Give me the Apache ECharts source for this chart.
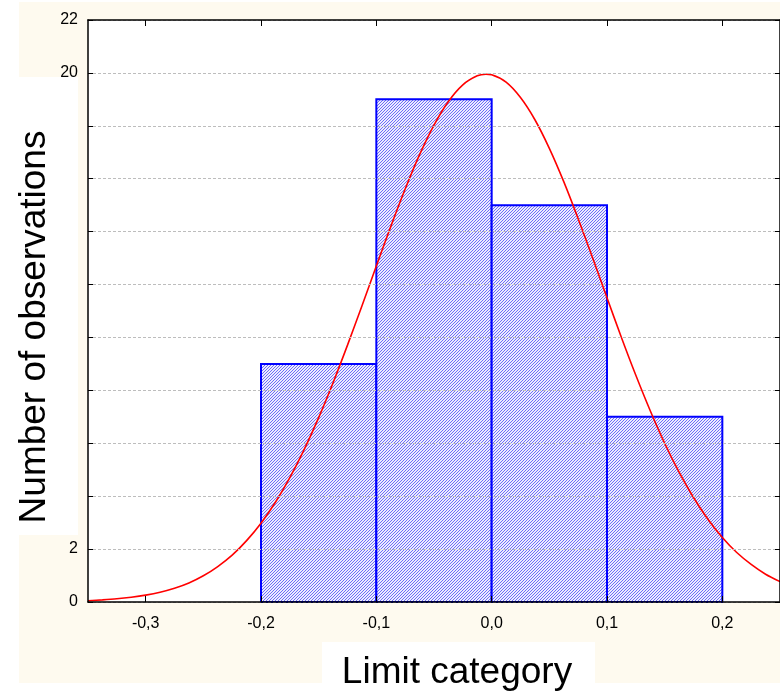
<!DOCTYPE html>
<html>
<head>
<meta charset="utf-8">
<script src="https://cdn.jsdelivr.net/npm/echarts@6/dist/echarts.min.js"></script>
<style>
  html, body { margin: 0; padding: 0; background: #ffffff; }
  #chart { width: 780px; height: 696px; }
</style>
</head>
<body>
<div id="chart"></div>
<script>
// histogram bins
const binStart = [-0.2, -0.1, 0.0, 0.1];
const binEnd = [-0.1, 0.0, 0.1, 0.2];
const counts = [9, 19, 15, 7];

// fitted curve
const curveX = [-0.35, -0.3375, -0.325, -0.3125, -0.3, -0.2875, -0.275, -0.2625, -0.25, -0.2375,
  -0.225, -0.2125, -0.2, -0.1875, -0.175, -0.1625, -0.15, -0.1375, -0.125, -0.1125,
  -0.1, -0.0875, -0.075, -0.0625, -0.05, -0.0375, -0.025, -0.0125, -0.005, 0,
  0.0125, 0.025, 0.0375, 0.05, 0.0625, 0.075, 0.0875, 0.1, 0.1125, 0.125,
  0.1375, 0.15, 0.1625, 0.175, 0.1875, 0.2, 0.2125, 0.225, 0.2375, 0.25];
const curveY = [0.05, 0.08, 0.12, 0.18, 0.26, 0.37, 0.52, 0.72, 0.99, 1.34,
  1.77, 2.32, 2.98, 3.77, 4.70, 5.77, 6.97, 8.29, 9.71, 11.19,
  12.70, 14.19, 15.61, 16.91, 18.03, 18.92, 19.55, 19.89, 19.95, 19.93,
  19.65, 19.07, 18.23, 17.15, 15.89, 14.49, 13.01, 11.50, 10.00, 8.57,
  7.23, 6.00, 4.91, 3.95, 3.13, 2.44, 1.87, 1.42, 1.05, 0.77];

// tick labels
const xTickValues = [-0.3, -0.2, -0.1, 0.0, 0.1, 0.2];
const yLabelValues = [0, 2, 20, 22];

const chart = echarts.init(document.getElementById('chart'));

// blue hatch fill like the original
const hatch = document.createElement('canvas');
hatch.width = 3;
hatch.height = 3;
const hc = hatch.getContext('2d');
hc.fillStyle = '#ececff';
hc.fillRect(0, 0, 3, 3);
hc.fillStyle = '#6e6ef6';
hc.fillRect(2, 0, 1, 1);
hc.fillRect(1, 1, 1, 1);
hc.fillRect(0, 2, 1, 1);

const fmt = v => (Math.abs(v) < 1e-9 ? 0 : v).toFixed(1).replace('.', ',');
const font = '"Liberation Sans", Arial, sans-serif';

const option = {
  backgroundColor: '#ffffff',
  animation: false,
  graphic: [
    { type: 'rect', z: -10, shape: { x: 19, y: 2, width: 761, height: 681 }, style: { fill: '#fefaef' } },
    { type: 'rect', z: 10, shape: { x: 19, y: 77, width: 59, height: 458 }, style: { fill: '#ffffff' } },
    { type: 'rect', z: 10, shape: { x: 322, y: 642, width: 273, height: 54 }, style: { fill: '#ffffff' } },
    {
      type: 'text', z: 11, x: 35, y: 327, rotation: Math.PI / 2,
      style: { text: 'Number of observations', font: '37px ' + font, fill: '#000', align: 'center', verticalAlign: 'middle' }
    },
    {
      type: 'text', z: 11, x: 457, y: 673,
      style: { text: 'Limit category', font: '37px ' + font, fill: '#000', align: 'center', verticalAlign: 'middle' }
    }
  ],
  grid: {
    left: 88, top: 20, width: 693.5, height: 582,
    show: true, backgroundColor: '#ffffff', borderWidth: 0
  },
  xAxis: [
    {
      type: 'value', min: -0.35, max: 0.25, position: 'bottom', z: 5,
      axisLine: { show: true, onZero: false, lineStyle: { color: '#000', width: 1.5 } },
      axisTick: { show: true, inside: true, length: 6, customValues: xTickValues, lineStyle: { color: '#000' } },
      axisLabel: { customValues: xTickValues, formatter: fmt, color: '#000', fontSize: 16, fontFamily: font, margin: 14 },
      splitLine: { show: false }
    },
    {
      type: 'value', min: -0.35, max: 0.25, position: 'top', z: 5,
      axisLine: { show: true, onZero: false, lineStyle: { color: '#000', width: 1.5 } },
      axisTick: { show: true, inside: true, length: 6, customValues: xTickValues, lineStyle: { color: '#000' } },
      axisLabel: { show: false },
      splitLine: { show: false }
    }
  ],
  yAxis: [
    {
      type: 'value', min: 0, max: 22, interval: 2, position: 'left', z: 5,
      axisLine: { show: true, onZero: false, lineStyle: { color: '#000', width: 1.5 } },
      axisTick: { show: true, inside: true, length: 5, lineStyle: { color: '#000' } },
      axisLabel: { customValues: yLabelValues, color: '#000', fontSize: 16, fontFamily: font, margin: 10 },
      splitLine: { show: true, lineStyle: { color: '#bdbdbd', type: [3, 2], width: 1 } }
    },
    {
      type: 'value', min: 0, max: 22, interval: 2, position: 'right', z: 5,
      axisLine: { show: true, onZero: false, lineStyle: { color: '#000', width: 1.5 } },
      axisTick: { show: true, inside: true, length: 5, lineStyle: { color: '#000' } },
      axisLabel: { show: false },
      splitLine: { show: false }
    }
  ],
  series: [
    {
      type: 'custom',
      z: 2,
      data: counts.map((c, i) => [binStart[i], binEnd[i], c]),
      encode: { x: [0, 1], y: 2 },
      renderItem: function (params, api) {
        const p0 = api.coord([api.value(0), api.value(2)]);
        const p1 = api.coord([api.value(1), 0]);
        return {
          type: 'rect',
          shape: { x: p0[0], y: p0[1], width: p1[0] - p0[0], height: p1[1] - p0[1] },
          style: { fill: { image: hatch, repeat: 'repeat' }, stroke: '#0000ff', lineWidth: 2 }
        };
      }
    },
    {
      type: 'line',
      z: 4,
      smooth: 0.3,
      symbol: 'none',
      clip: true,
      data: curveX.map((x, i) => [x, curveY[i]]),
      lineStyle: { color: '#ff0000', width: 1.6 }
    }
  ]
};

chart.setOption(option);
</script>
</body>
</html>
